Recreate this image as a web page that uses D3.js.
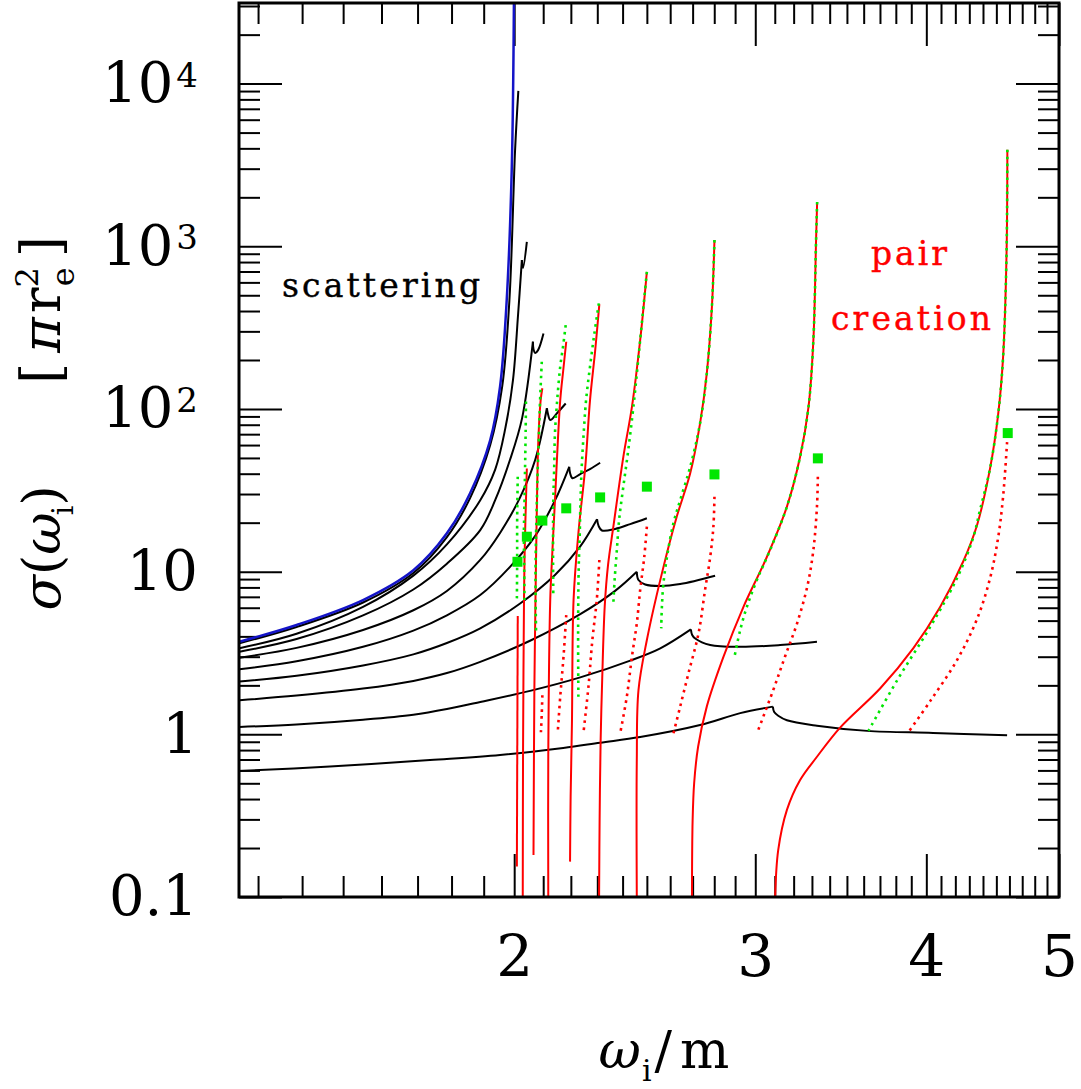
<!DOCTYPE html>
<html>
<head>
<meta charset="utf-8">
<script src="https://cdn.jsdelivr.net/npm/d3@7"></script>
<style>
  body { margin: 0; background: #fff; }
  svg { display: block; }
</style>
</head>
<body>
<div id="chart"></div>
<script>
////////////////////////////////////////////////////////////
//////////////////////// Data //////////////////////////////
////////////////////////////////////////////////////////////

// [omega_i/m, sigma in pi r_e^2]
var vacuumCurve = [[1.26,3.71],[1.387,4.70],[1.551,6.69],[1.688,10.2],[1.786,17.2],[1.857,30.3],
  [1.921,64.4],[1.953,137],[1.975,467],[1.992,3080],[1.9995,40000]];

// scattering curves, rising part up to the cusp
var scatterRise = [
  [[1.26,3.63],[1.387,4.57],[1.551,6.46],[1.688,9.80],[1.786,16.3],[1.857,28.3],[1.921,60.0],[1.960,137],[1.984,467],[2.003,3900],[2.014,9030]],
  [[1.26,3.38],[1.387,4.15],[1.551,6.07],[1.688,9.45],[1.786,14.7],[1.889,27.5],[1.937,42.4],[1.970,75.4],[1.996,151],[2.013,378],[2.026,823]],
  [[1.26,3.22],[1.387,3.85],[1.551,5.38],[1.688,7.77],[1.786,11.2],[1.889,18.0],[1.937,27.5],[1.986,48.7],[2.027,88.2],[2.064,259]],
  [[1.26,2.96],[1.387,3.40],[1.551,4.38],[1.688,5.79],[1.786,7.61],[1.889,11.8],[1.953,17.3],[2.020,28.6],[2.072,48.7],[2.113,101]],
  [[1.26,2.51],[1.387,2.81],[1.551,3.45],[1.688,4.34],[1.786,5.39],[1.889,7.18],[1.986,10.7],[2.072,16.6],[2.142,27.4],[2.194,44.1]],
  [[1.26,2.11],[1.387,2.29],[1.551,2.65],[1.688,3.10],[1.786,3.64],[1.889,4.48],[2.020,6.37],[2.142,9.54],[2.235,14.3],[2.299,21.0]],
  [[1.26,1.62],[1.387,1.73],[1.551,1.91],[1.688,2.13],[1.786,2.38],[1.889,2.79],[2.054,3.76],[2.235,5.48],[2.370,7.62],[2.458,9.99]],
  [[1.26,1.11],[1.387,1.15],[1.551,1.23],[1.688,1.32],[1.786,1.43],[1.889,1.58],[2.054,1.85],[2.235,2.24],[2.431,2.84],[2.557,3.38],[2.692,4.42]],
  [[1.26,0.595],[1.467,0.634],[1.736,0.695],[1.953,0.746],[2.172,0.824],[2.311,0.888],[2.472,0.962],[2.734,1.14],[2.925,1.35],[3.090,1.48]]
];

// scattering curves, part after the cusp
var scatterTail = [
  [[2.026,823],[2.030,735],[2.043,1066]],
  [[2.064,259],[2.066,233],[2.072,221],[2.082,230],[2.101,291]],
  [[2.113,101],[2.117,93.0],[2.125,85.5],[2.150,94.4],[2.181,108]],
  [[2.194,44.1],[2.197,40.4],[2.206,37.5],[2.235,39.8],[2.272,42.7],[2.311,46.7]],
  [[2.299,21.0],[2.305,19.1],[2.318,17.9],[2.370,18.3],[2.431,19.6],[2.500,21.3]],
  [[2.458,9.99],[2.465,8.88],[2.493,8.33],[2.557,8.16],[2.644,8.39],[2.804,9.44]],
  [[2.692,4.42],[2.698,4.08],[2.712,3.88],[2.781,3.54],[2.925,3.45],[3.128,3.54],[3.328,3.71]],
  [[3.090,1.48],[3.097,1.37],[3.118,1.30],[3.164,1.22],[3.328,1.13],[3.621,1.05],[4.046,1.02],[4.582,0.986]]
];

// pair creation, full result (red solid)
var pairCurves = [
  [[2.009,0.154],[2.012,5.33]],
  [[2.029,0.1],[2.030,0.801],[2.032,3.30],[2.035,11.8],[2.043,43.1]],
  [[2.066,0.181],[2.069,1.87],[2.072,5.04],[2.077,20.8],[2.083,64.4],[2.091,113],[2.097,134]],
  [[2.118,0.1],[2.118,0.728],[2.125,6.69],[2.133,13.6],[2.142,27.5],[2.161,113],[2.172,173],[2.183,259]],
  [[2.197,0.165],[2.199,0.395],[2.204,1.17],[2.210,6.69],[2.228,17.2],[2.254,44.1],[2.272,113],[2.292,230],[2.308,441]],
  [[2.307,0.1],[2.309,0.297],[2.313,0.923],[2.319,2.16],[2.329,6.15],[2.342,11.0],[2.363,18.9],[2.403,50.8],[2.438,103],[2.472,265],[2.500,697]],
  [[2.458,0.1],[2.458,0.695],[2.465,1.87],[2.500,3.80],[2.564,9.76],[2.629,21.8],[2.689,40.2],[2.734,81.6],[2.765,165],[2.789,425],[2.801,1092]],
  [[2.697,0.1],[2.700,0.297],[2.707,0.502],[2.725,0.839],[2.765,1.48],[2.844,3.00],[2.941,6.08],[3.059,12.3],[3.164,25.1],[3.235,50.8],[3.281,103],[3.308,265],[3.323,1092],[3.329,1870]],
  [[3.102,0.1],[3.118,0.194],[3.164,0.343],[3.235,0.524],[3.328,0.728],[3.460,1.10],[3.702,1.92],[3.914,3.39],[4.094,6.06],[4.255,11.5],[4.356,19.3],[4.453,43.3],[4.513,91.7],[4.551,206],[4.578,921],[4.584,3925]]
];

// pair creation, approximation (green dotted)
var pairApprox = [
  [[2.012,38.3],[2.010,20.8],[2.010,11.8],[2.009,6.41]],
  [[2.040,111],[2.039,74.2],[2.037,44.1],[2.035,27.5],[2.033,17.3],[2.034,10.2],[2.035,6.69]],
  [[2.095,195],[2.089,113],[2.085,69.1],[2.081,44.1],[2.077,23.9],[2.075,17.2],[2.073,8.47],[2.075,4.18]],
  [[2.181,328],[2.172,247],[2.161,182],[2.150,113],[2.142,70.8],[2.139,42.1],[2.136,27.5],[2.135,13.6],[2.136,7.01]],
  [[2.306,446],[2.288,285],[2.272,182],[2.257,113],[2.248,71.1],[2.240,42.1],[2.236,27.5],[2.233,16.8],[2.229,10.2],[2.227,4.19],[2.228,1.70]],
  [[2.500,697],[2.472,265],[2.444,103],[2.423,55.9],[2.403,33.3],[2.386,20.8],[2.377,13.6],[2.368,8.88],[2.363,6.39]],
  [[2.801,1092],[2.789,425],[2.765,165],[2.734,81.6],[2.689,44.1],[2.644,27.5],[2.614,19.8],[2.586,12.3],[2.570,8.27],[2.564,6.08],[2.561,4.48]],
  [[3.329,1870],[3.323,1092],[3.308,265],[3.281,103],[3.235,50.8],[3.164,25.1],[3.076,13.6],[3.008,8.88],[2.958,6.08],[2.925,4.38],[2.897,3.00]],
  [[4.584,3925],[4.578,921],[4.551,206],[4.513,91.7],[4.453,43.3],[4.378,23.9],[4.327,16.1],[4.212,9.13],[4.026,4.57],[3.810,2.16],[3.629,1.05]]
];

// pair creation, lower branch (red dotted)
var pairLow = [
  [[2.097,1.74],[2.095,1.35],[2.092,1.03]],
  [[2.183,5.41],[2.173,3.00],[2.161,1.70],[2.152,1.03]],
  [[2.308,11.8],[2.298,6.69],[2.281,3.80],[2.266,1.96],[2.247,1.02]],
  [[2.500,18.9],[2.489,12.3],[2.472,7.71],[2.458,4.81],[2.438,3.00],[2.417,1.70],[2.390,1.01]],
  [[2.801,28.9],[2.796,18.9],[2.781,12.3],[2.757,7.71],[2.727,4.18],[2.681,2.37],[2.644,1.48],[2.614,1.01]],
  [[3.333,38.3],[3.328,25.1],[3.308,13.6],[3.276,8.27],[3.219,4.83],[3.155,3.03],[3.092,1.87],[3.008,1.01]],
  [[4.582,62.6],[4.551,28.7],[4.513,16.1],[4.453,9.13],[4.356,5.11],[4.212,2.86],[4.026,1.60],[3.881,1.03]]
];

var squareX = [2.011, 2.043, 2.097, 2.183, 2.311, 2.500, 2.801, 3.333, 4.587];
var squareY = [11.5, 16.4, 20.6, 24.5, 28.6, 33.3, 39.6, 49.7, 71.1];

var xMajor = [2, 3, 4, 5];
var xLabels = ["2", "3", "4", "5"];
var yMajor = [0.1, 1, 10, 100, 1000, 10000];
var yLabels = ["0.1", "1", "10", "10", "10", "10"];
var yExps = ["", "", "", "2", "3", "4"];

////////////////////////////////////////////////////////////
//////////////////////// Set-Up ////////////////////////////
////////////////////////////////////////////////////////////

var width = 1081, height = 1089;
var plotL = 239, plotR = 1059, plotT = 3, plotB = 897;

var x = d3.scaleLog().domain([1.259, 5]).range([plotL, plotR]);
var y = d3.scaleLog().domain([0.1, 3.13e4]).range([plotB, plotT]);

var svg = d3.select("#chart").append("svg")
  .attr("width", width)
  .attr("height", height);

svg.append("defs").append("clipPath").attr("id", "plotClip")
  .append("rect").attr("x", plotL).attr("y", plotT)
  .attr("width", plotR - plotL).attr("height", plotB - plotT);

var serif = "'DejaVu Serif', serif";

////////////////////////////////////////////////////////////
//////////////////////// Axes //////////////////////////////
////////////////////////////////////////////////////////////

var xMinor = d3.range(13, 50).map(function(d) { return d / 10; })
  .filter(function(d) { return xMajor.indexOf(d) < 0; });
var yMinor = [];
[-1, 0, 1, 2, 3, 4].forEach(function(e) {
  for (var m = 2; m <= 9; m++) {
    var v = +(m * Math.pow(10, e)).toPrecision(3);
    if (v < 3.13e4) yMinor.push(v);
  }
});

function styleAxis(g) {
  g.select(".domain").remove();
  g.selectAll(".tick line").attr("stroke", "#000").attr("stroke-width", 2);
}

// bottom
svg.append("g").attr("transform", "translate(0," + plotB + ")")
  .call(d3.axisBottom(x).tickValues(xMinor).tickSize(-21).tickFormat(""))
  .call(styleAxis);
svg.append("g").attr("transform", "translate(0," + plotB + ")")
  .call(d3.axisBottom(x).tickValues(xMajor).tickSize(-43).tickPadding(38)
    .tickFormat(function(d, i) { return xLabels[i]; }))
  .call(styleAxis)
  .selectAll("text")
  .attr("font-family", serif).attr("font-size", 58).attr("fill", "#000");

// top
svg.append("g").attr("transform", "translate(0," + plotT + ")")
  .call(d3.axisTop(x).tickValues(xMinor).tickSize(-21).tickFormat(""))
  .call(styleAxis);
svg.append("g").attr("transform", "translate(0," + plotT + ")")
  .call(d3.axisTop(x).tickValues(xMajor).tickSize(-43).tickFormat(""))
  .call(styleAxis);

// left
svg.append("g").attr("transform", "translate(" + plotL + ",0)")
  .call(d3.axisLeft(y).tickValues(yMinor).tickSize(-21).tickFormat(""))
  .call(styleAxis);
var yAxisG = svg.append("g").attr("transform", "translate(" + plotL + ",0)")
  .call(d3.axisLeft(y).tickValues(yMajor).tickSize(-43).tickPadding(41)
    .tickFormat(function(d, i) { return yLabels[i]; }))
  .call(styleAxis);
yAxisG.selectAll("text")
  .attr("font-family", serif).attr("font-size", 56).attr("fill", "#000")
  .each(function(d, i) {
    if (yExps[i]) {
      d3.select(this).append("tspan")
        .attr("dy", "-0.45em").attr("font-size", 34).attr("dx", 3)
        .text(yExps[i]);
    }
  });

// right
svg.append("g").attr("transform", "translate(" + plotR + ",0)")
  .call(d3.axisRight(y).tickValues(yMinor).tickSize(-21).tickFormat(""))
  .call(styleAxis);
svg.append("g").attr("transform", "translate(" + plotR + ",0)")
  .call(d3.axisRight(y).tickValues(yMajor).tickSize(-43).tickFormat(""))
  .call(styleAxis);

////////////////////////////////////////////////////////////
//////////////////////// Curves ////////////////////////////
////////////////////////////////////////////////////////////

var line = d3.line()
  .x(function(d) { return x(d[0]); })
  .y(function(d) { return y(d[1]); })
  .curve(d3.curveCatmullRom.alpha(0.5));

var plot = svg.append("g").attr("clip-path", "url(#plotClip)");

plot.selectAll("path.scat")
  .data(scatterRise.concat(scatterTail))
  .enter().append("path")
  .attr("class", "scat")
  .attr("d", line)
  .attr("fill", "none").attr("stroke", "#000").attr("stroke-width", 2);

plot.append("path")
  .attr("d", line(vacuumCurve))
  .attr("fill", "none").attr("stroke", "#1414c8").attr("stroke-width", 2.5);

plot.selectAll("path.pair")
  .data(pairCurves)
  .enter().append("path")
  .attr("class", "pair")
  .attr("d", line)
  .attr("fill", "none").attr("stroke", "#ff0000").attr("stroke-width", 2);

plot.selectAll("path.approx")
  .data(pairApprox)
  .enter().append("path")
  .attr("class", "approx")
  .attr("d", line)
  .attr("fill", "none").attr("stroke", "#00e600").attr("stroke-width", 2.6)
  .attr("stroke-dasharray", "2.6 4.4");

plot.selectAll("path.low")
  .data(pairLow)
  .enter().append("path")
  .attr("class", "low")
  .attr("d", line)
  .attr("fill", "none").attr("stroke", "#ff0000").attr("stroke-width", 2.6)
  .attr("stroke-dasharray", "2.6 4.4");

plot.selectAll("rect.sq")
  .data(squareX)
  .enter().append("rect")
  .attr("class", "sq")
  .attr("x", function(d) { return x(d) - 5; })
  .attr("y", function(d, i) { return y(squareY[i]) - 5; })
  .attr("width", 10).attr("height", 10)
  .attr("fill", "#00e600");

// frame
svg.append("rect")
  .attr("x", plotL).attr("y", plotT)
  .attr("width", plotR - plotL).attr("height", plotB - plotT)
  .attr("fill", "none").attr("stroke", "#000").attr("stroke-width", 3);

////////////////////////////////////////////////////////////
//////////////////////// Texts /////////////////////////////
////////////////////////////////////////////////////////////

svg.append("text")
  .attr("x", 282).attr("y", 297)
  .attr("font-family", serif).attr("font-size", 33)
  .attr("textLength", 198).attr("lengthAdjust", "spacing")
  .attr("fill", "#000").attr("stroke", "#000").attr("stroke-width", 0.4)
  .text("scattering");

svg.append("text")
  .attr("x", 871).attr("y", 265)
  .attr("font-family", serif).attr("font-size", 33)
  .attr("textLength", 76).attr("lengthAdjust", "spacing")
  .attr("fill", "#ff0000").attr("stroke", "#ff0000").attr("stroke-width", 0.4)
  .text("pair");
svg.append("text")
  .attr("x", 831).attr("y", 330)
  .attr("font-family", serif).attr("font-size", 33)
  .attr("textLength", 160).attr("lengthAdjust", "spacing")
  .attr("fill", "#ff0000").attr("stroke", "#ff0000").attr("stroke-width", 0.4)
  .text("creation");

// x label
var xl = svg.append("text")
  .attr("x", 664).attr("y", 1068).attr("text-anchor", "middle")
  .attr("font-family", serif).attr("font-size", 52).attr("fill", "#000");
xl.append("tspan").attr("font-style", "italic").text("ω");
xl.append("tspan").attr("font-size", 30).attr("dx", 1).attr("dy", 13).text("i");
xl.append("tspan").attr("dy", -13).attr("dx", 3).text("/");
xl.append("tspan").attr("dx", 8).text("m");

// y label: two groups
var yl1 = svg.append("text")
  .attr("transform", "translate(60,548) rotate(-90)")
  .attr("text-anchor", "middle")
  .attr("font-family", serif).attr("font-size", 52).attr("fill", "#000");
yl1.append("tspan").attr("font-style", "italic").text("σ");
yl1.append("tspan").text("(");
yl1.append("tspan").attr("font-style", "italic").text("ω");
yl1.append("tspan").attr("font-size", 30).attr("dx", -3).attr("dy", 13).text("i");
yl1.append("tspan").attr("dy", -13).text(")");

var yl2 = svg.append("text")
  .attr("transform", "translate(60,310) rotate(-90)")
  .attr("text-anchor", "middle")
  .attr("font-family", serif).attr("font-size", 54).attr("fill", "#000");
yl2.append("tspan").text("[");
yl2.append("tspan").attr("font-style", "italic").attr("dx", 10).text("π");
yl2.append("tspan").attr("dx", 4).text("r");
yl2.append("tspan").attr("font-size", 32).attr("dy", -22).text("2");
yl2.append("tspan").attr("font-size", 32).attr("dx", -19).attr("dy", 36).text("e");
yl2.append("tspan").attr("dy", -14).attr("dx", 10).text("]");
</script>
</body>
</html>
